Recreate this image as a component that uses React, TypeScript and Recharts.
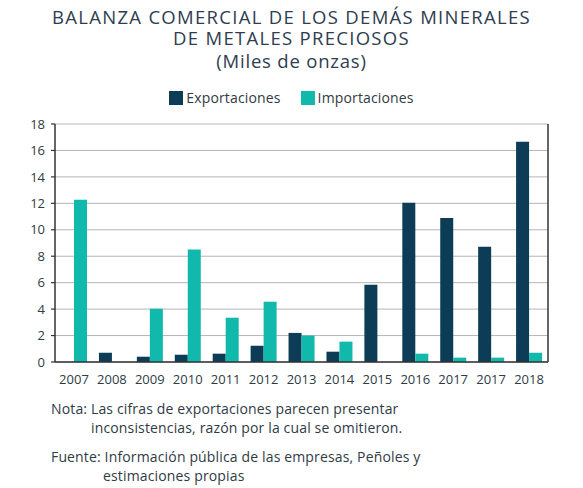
import React from 'react';
import { BarChart, Bar, XAxis, YAxis, CartesianGrid } from 'recharts';

const years = ['2007', '2008', '2009', '2010', '2011', '2012', '2013', '2014', '2015', '2016', '2017', '2017', '2018'];
const exportaciones = [0, 0.7, 0.4, 0.55, 0.63, 1.23, 2.2, 0.78, 5.85, 12.05, 10.9, 8.72, 16.66];
const importaciones = [12.28, 0, 4.03, 8.5, 3.35, 4.56, 2.0, 1.54, 0, 0.63, 0.33, 0.33, 0.7];
const yTicks = [0, 2, 4, 6, 8, 10, 12, 14, 16, 18];
const edgeTicks = years.map((_, i) => i).concat(years.length);

const EXP = '#0d3d56';
const IMP = '#10b9ab';
const TEXT = '#2f3b45';
const FONT = '"Open Sans", "Noto Sans", sans-serif';

const data = years.map((year, i) => ({
  year,
  exportaciones: exportaciones[i],
  importaciones: importaciones[i],
}));

const titleLine = (top: number, spacing: number): React.CSSProperties => ({
  position: 'absolute',
  top,
  left: 0,
  width: 583,
  textAlign: 'center',
  fontSize: 18.5,
  lineHeight: '20px',
  letterSpacing: spacing,
  color: '#2e3d4f',
});

export default function App() {
  return (
    <div style={{ position: 'absolute', left: 0, top: 0, width: 583, height: 488, background: '#fff', fontFamily: FONT, color: TEXT }}>
      <div style={titleLine(7, 1.3)}>BALANZA COMERCIAL DE LOS DEMÁS MINERALES</div>
      <div style={titleLine(28, 1.3)}>DE METALES PRECIOSOS</div>
      <div style={titleLine(51, 0.8)}>(Miles de onzas)</div>

      <div style={{ position: 'absolute', top: 89, left: 0, width: 583, display: 'flex', justifyContent: 'center', fontSize: 14, lineHeight: '18px', letterSpacing: 0.15 }}>
        <span style={{ display: 'flex', alignItems: 'center', marginRight: 20 }}>
          <span style={{ width: 14, height: 14, background: EXP, marginRight: 3, display: 'inline-block' }} />
          Exportaciones
        </span>
        <span style={{ display: 'flex', alignItems: 'center' }}>
          <span style={{ width: 14, height: 14, background: IMP, marginRight: 3, display: 'inline-block' }} />
          Importaciones
        </span>
      </div>

      <div style={{ position: 'absolute', top: 0, left: 0 }}>
        <BarChart
          width={583}
          height={390}
          data={data}
          margin={{ top: 124, right: 0, bottom: 0, left: 0 }}
          barGap={0}
          barSize={13}
        >
          <CartesianGrid vertical={false} stroke="#b5b5b5" strokeWidth={1} yAxisId="left" xAxisId="cat" />
          <XAxis
            xAxisId="edges"
            type="number"
            domain={[0, years.length]}
            ticks={edgeTicks}
            tickFormatter={() => ''}
            axisLine={false}
            tickLine={{ stroke: '#333', strokeWidth: 1.2 }}
            tickSize={5}
            height={0}
            allowDataOverflow
          />
          <XAxis
            xAxisId="cat"
            dataKey="year"
            interval={0}
            axisLine={{ stroke: '#333', strokeWidth: 1.5 }}
            tickLine={false}
            tick={{ fill: TEXT, fontSize: 13, fontFamily: FONT }}
            tickMargin={7}
            height={28}
          />
          <YAxis
            yAxisId="left"
            domain={[0, 18]}
            ticks={yTicks}
            interval={0}
            width={55}
            axisLine={{ stroke: '#333', strokeWidth: 1.5 }}
            tickLine={{ stroke: '#333', strokeWidth: 1.2 }}
            tickSize={4}
            tickMargin={6}
            tick={{ fill: TEXT, fontSize: 13, fontFamily: FONT }}
          />
          <YAxis
            yAxisId="right"
            orientation="right"
            domain={[0, 18]}
            width={35}
            tick={false}
            tickLine={false}
            axisLine={{ stroke: '#333', strokeWidth: 1.5 }}
          />
          <Bar xAxisId="cat" yAxisId="left" dataKey="exportaciones" fill={EXP} isAnimationActive={false} />
          <Bar xAxisId="cat" yAxisId="left" dataKey="importaciones" fill={IMP} isAnimationActive={false} />
        </BarChart>
      </div>

      <div style={{ position: 'absolute', top: 400, left: 51, fontSize: 14, lineHeight: '18.5px', letterSpacing: 0.15 }}>
        <div>Nota: Las cifras de exportaciones parecen presentar</div>
        <div style={{ paddingLeft: 40 }}>inconsistencias, razón por la cual se omitieron.</div>
      </div>
      <div style={{ position: 'absolute', top: 448, left: 51, fontSize: 14, lineHeight: '18.5px', letterSpacing: 0.15 }}>
        <div>Fuente: Información pública de las empresas, Peñoles y</div>
        <div style={{ paddingLeft: 52 }}>estimaciones propias</div>
      </div>
    </div>
  );
}
